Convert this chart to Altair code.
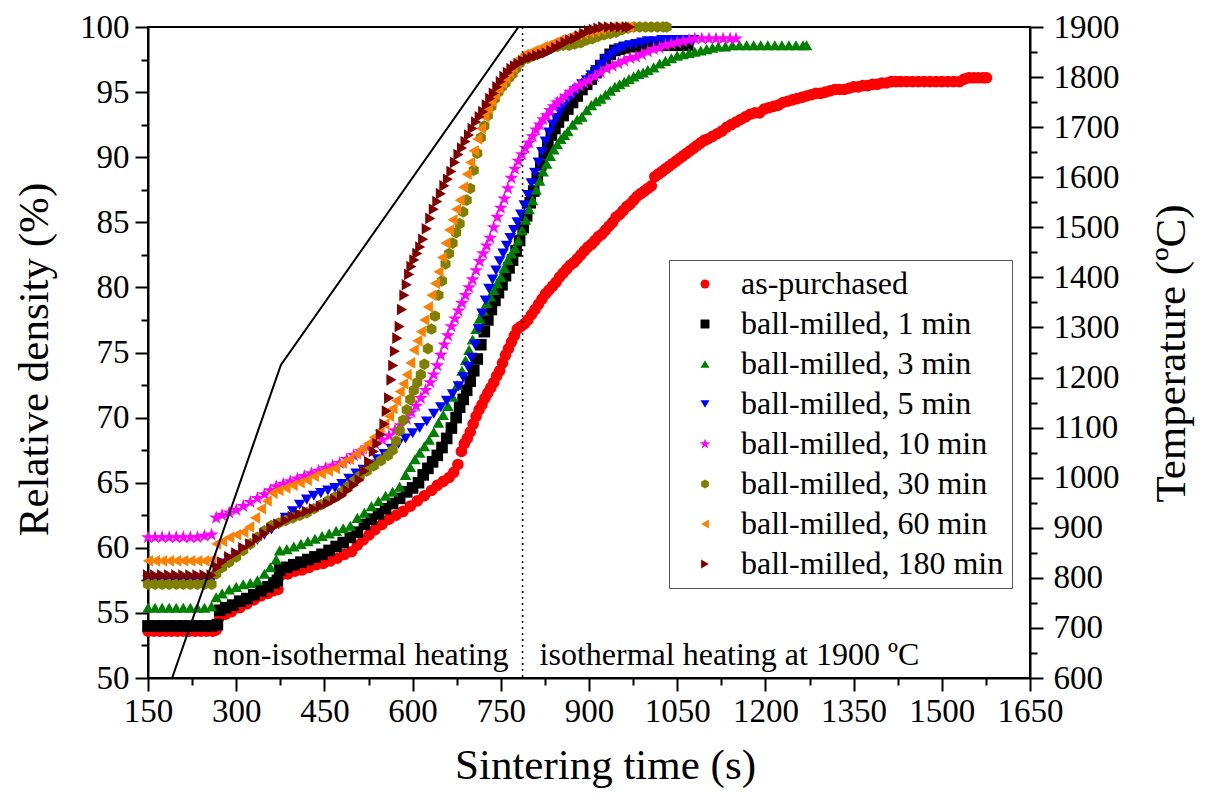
import altair as alt
import pandas as pd

# ---------------- data ----------------
series_names = [
    "as-purchased", "ball-milled, 1 min", "ball-milled, 3 min", "ball-milled, 5 min",
    "ball-milled, 10 min", "ball-milled, 30 min", "ball-milled, 60 min", "ball-milled, 180 min",
]
series_colors = ["#FF0000", "#000000", "#008000", "#0000FF", "#FF00FF", "#808000", "#FF8000", "#800000"]
STAR = ("M0,-1.25L0.282,-0.388L1.189,-0.386L0.456,0.148L0.735,1.011L0,0.48"
        "L-0.735,1.011L-0.456,0.148L-1.189,-0.386L-0.282,-0.388Z")
HEX = "M0,-1L0.866,-0.5L0.866,0.5L0,1L-0.866,0.5L-0.866,-0.5Z"
series_shapes = ["circle", "square", "triangle-up", "triangle-down", STAR, HEX, "triangle-left", "triangle-right"]

as_purchased = [(150,53.6),(160,53.6),(170,53.6),(180,53.6),(190,53.6),(200,53.6),(210,53.6),(220,53.6),(230,53.6),(240,53.6),(250,53.6),(260,53.6),(266,53.7),
(272,54.7),(282,54.9),(292,55.1),(306,55.4),(318,55.7),(330,56.0),(342,56.3),(354,56.5),(363,56.7),(371,56.8),(376,57.9),(388,58.0),(400,58.2),(412,58.3),(424,58.5),(436,58.7),(448,58.8),(460,59.0),(472,59.2),(484,59.5),(496,59.7),(506,60.2),(516,60.6),(526,61.0),(536,61.4),(548,61.8),(560,62.2),(572,62.5),(584,62.8),(596,63.2),(608,63.6),(620,64.0),(632,64.4),(642,64.8),(652,65.1),(662,65.4),(670,65.8),(677,66.4),(683,67.4),(688,68.0),(693,68.4),(698,68.9),(703,69.5),(708,70.1),(713,70.6),(718,71.0),(723,71.5),(728,71.9),(733,72.3),(738,72.7),(743,73.2),(748,73.6),(753,74.2),(758,74.8),(763,75.3),(768,75.8),(773,76.3),(778,76.8),(784,77.0),(790,77.2),(796,77.5),(802,77.9),(808,78.3),(814,78.7),(820,79.1),(826,79.5),(832,79.8),(838,80.1),(844,80.4),(850,80.8),(856,81.1),(862,81.4),(868,81.7),(874,81.9),(880,82.2),(886,82.5),(892,82.8),(898,83.1),(904,83.3),(910,83.6),(916,83.9),(922,84.1),(928,84.4),(934,84.7),(940,85.0),(946,85.4),(952,85.6),(958,85.9),(964,86.2),(970,86.4),(976,86.7),(982,87.0),(988,87.2),(994,87.4),(1000,87.6),(1006,87.8),(1012,88.5),(1018,88.7),(1024,88.9),(1030,89.1),(1036,89.3),(1042,89.5),(1048,89.7),(1054,89.9),(1060,90.1),(1066,90.3),(1072,90.5),(1078,90.7),(1084,90.9),(1090,91.1),(1096,91.3),(1102,91.4),(1110,91.6),(1118,91.8),(1126,92.0),(1134,92.3),(1142,92.5),(1150,92.7),(1158,92.9),(1166,93.1),(1174,93.3),(1182,93.4),(1190,93.4),(1198,93.7),(1206,93.8),(1214,93.9),(1222,94.0),(1230,94.2),(1238,94.3),(1246,94.4),(1254,94.5),(1262,94.6),(1270,94.7),(1278,94.8),(1286,94.9),(1294,94.9),(1302,95.0),(1310,95.1),(1318,95.2),(1326,95.2),(1334,95.2),(1342,95.3),(1350,95.4),(1358,95.4),(1366,95.5),(1374,95.5),(1382,95.6),(1390,95.6),(1398,95.7),(1406,95.7),(1414,95.8),(1422,95.8),(1430,95.8),(1440,95.8),(1450,95.8),(1460,95.8),(1470,95.8),(1480,95.8),(1490,95.8),(1500,95.8),(1510,95.8),(1520,95.8),(1530,95.8),(1538,96.0),(1546,96.1),(1554,96.1),(1562,96.1),(1570,96.1),(1576,96.1)]

bm_1 = [(150,54.0),(162,54.0),(174,54.0),(186,54.0),(198,54.0),(210,54.0),(222,54.0),(234,54.0),(246,54.0),(258,54.0),(268,54.1),
(272,55.2),(282,55.4),(294,55.6),(306,55.9),(318,56.1),(330,56.4),(342,56.7),(354,57.0),(364,57.3),(370,57.5),(374,58.3),(386,58.5),(398,58.7),(410,58.9),(422,59.1),(434,59.3),(446,59.5),(458,59.8),(470,60.1),(482,60.4),(494,60.8),(506,61.2),(518,61.8),(530,62.2),(542,62.6),(554,63.0),(566,63.4),(578,63.8),(590,64.3),(600,64.6),(610,65.0),(618,65.6),(626,66.1),(634,66.6),(642,67.1),(650,67.7),(658,68.4),(666,69.2),(674,70.0),(680,70.8),(686,71.4),(692,72.1),(698,72.8),(704,73.6),(710,74.5),(716,75.6),(722,76.6),(728,77.5),(734,78.3),(740,79.0),(746,79.6),(752,80.2),(758,80.9),(764,81.5),(770,82.1),(776,82.8),(782,83.6),(788,84.6),(794,85.5),(800,86.5),(806,87.4),(812,88.4),(818,89.4),(824,90.3),(830,91.0),(836,91.7),(842,92.2),(848,92.7),(856,93.2),(864,93.7),(872,94.2),(880,94.7),(888,95.2),(896,95.6),(904,96.0),(912,96.5),(920,97.0),(928,97.5),(936,97.9),(944,98.2),(952,98.3),(960,98.4),(970,98.5),(980,98.5),(990,98.5),(1000,98.5),(1010,98.6),(1020,98.6),(1030,98.6),(1040,98.6),(1050,98.6),(1060,98.6),(1068,98.6)]

bm_3 = [(150,55.4),(162,55.4),(174,55.4),(186,55.4),(198,55.4),(210,55.4),(222,55.4),(234,55.4),(246,55.4),(258,55.5),
(266,56.2),(276,56.5),(288,56.8),(300,57.0),(312,57.2),(324,57.3),(336,57.5),(348,58.0),(358,58.5),(368,59.1),(374,59.8),(386,59.9),(398,60.1),(410,60.3),(422,60.5),(434,60.7),(446,60.9),(458,61.1),(470,61.3),(482,61.5),(494,61.7),(506,62.3),(518,62.7),(530,63.2),(542,63.6),(554,64.0),(566,64.3),(578,64.7),(588,65.6),(596,66.2),(604,66.8),(612,67.3),(620,67.8),(628,68.3),(636,68.9),(644,69.6),(652,70.2),(660,70.9),(668,71.6),(676,72.5),(684,73.6),(690,74.4),(696,75.2),(702,76.0),(708,76.8),(714,77.6),(720,78.2),(726,78.8),(732,79.3),(738,79.8),(744,80.3),(750,80.8),(756,81.5),(762,82.1),(768,82.6),(774,83.0),(780,83.6),(786,84.4),(792,85.2),(798,86.0),(804,86.7),(810,87.5),(816,88.2),(822,88.9),(828,89.5),(834,90.1),(840,90.6),(846,91.0),(852,91.4),(858,91.7),(864,92.0),(872,92.5),(880,92.9),(888,93.1),(896,93.6),(904,94.0),(912,94.3),(920,94.5),(928,94.8),(936,95.1),(944,95.4),(952,95.6),(960,95.8),(968,96.0),(976,96.2),(984,96.4),(992,96.5),(1000,96.7),(1010,96.9),(1020,97.2),(1030,97.4),(1040,97.6),(1050,97.8),(1060,97.9),(1070,98.0),(1080,98.1),(1090,98.2),(1100,98.3),(1110,98.4),(1120,98.5),(1132,98.5),(1144,98.6),(1156,98.6),(1168,98.6),(1180,98.6),(1192,98.6),(1204,98.6),(1216,98.6),(1228,98.6),(1240,98.6),(1252,98.6),(1264,98.6),(1270,98.6)]

bm_5 = [(150,57.5),(162,57.5),(174,57.5),(186,57.5),(198,57.5),(210,57.5),(222,57.5),(234,57.5),(246,57.5),(258,57.5),
(266,58.4),(276,58.8),(288,59.1),(300,59.4),(312,59.8),(324,60.2),(336,60.6),(348,61.0),(360,61.4),(372,61.8),(384,62.3),(396,62.8),(408,63.3),(420,63.7),(432,64.0),(444,64.2),(456,64.4),(468,64.6),(480,64.9),(492,65.3),(504,65.7),(516,66.0),(528,66.4),(540,66.8),(552,67.2),(564,67.6),(576,68.0),(588,68.4),(600,68.8),(612,69.2),(624,69.7),(636,70.3),(648,70.8),(658,71.3),(668,71.8),(678,72.4),(686,73.1),(694,73.9),(700,74.6),(706,75.6),(712,76.8),(718,78.0),(724,79.0),(730,79.9),(736,80.6),(742,81.3),(748,82.0),(754,82.6),(760,83.2),(766,83.8),(772,84.4),(778,85.0),(784,85.6),(790,86.3),(796,87.1),(802,88.0),(808,88.8),(814,89.6),(820,90.4),(826,91.2),(832,91.9),(838,92.5),(844,93.0),(850,93.5),(856,93.9),(864,94.4),(872,94.8),(880,95.2),(888,95.6),(896,95.9),(904,96.3),(912,96.7),(920,97.1),(928,97.5),(936,97.8),(944,98.1),(952,98.3),(960,98.5),(970,98.6),(980,98.7),(990,98.8),(1000,98.9),(1012,98.9),(1024,99.0),(1036,99.0),(1048,99.0),(1060,99.0),(1072,99.0),(1078,99.0)]

bm_10 = [(150,60.8),(162,60.8),(174,60.8),(186,60.8),(198,60.8),(210,60.8),(222,60.8),(234,60.8),(246,60.9),(258,61.0),
(266,62.3),(276,62.5),(288,62.7),(300,62.9),(312,63.2),(324,63.5),(336,63.8),(348,64.1),(358,64.4),(368,64.7),(380,64.9),(392,65.1),(404,65.3),(416,65.5),(428,65.7),(440,65.9),(452,66.1),(464,66.3),(476,66.5),(488,66.8),(500,67.1),(512,67.4),(524,67.7),(536,68.0),(548,68.3),(560,68.6),(570,69.0),(580,69.4),(590,69.9),(598,70.4),(606,70.9),(614,71.5),(622,72.1),(630,72.7),(636,73.3),(642,74.0),(648,74.8),(654,75.6),(660,76.3),(666,77.0),(672,77.6),(678,78.2),(684,78.8),(690,79.4),(696,80.0),(702,80.6),(708,81.3),(714,82.0),(720,82.6),(726,83.2),(732,83.8),(738,84.6),(744,85.4),(750,86.1),(756,86.8),(762,87.6),(768,88.4),(774,89.1),(780,89.7),(786,90.2),(792,90.7),(798,91.1),(804,91.6),(810,92.1),(816,92.5),(822,92.9),(828,93.2),(834,93.6),(840,93.9),(846,94.2),(852,94.4),(860,94.7),(868,95.0),(876,95.3),(884,95.5),(892,95.7),(900,95.9),(910,96.2),(920,96.5),(930,96.8),(940,97.0),(950,97.2),(960,97.4),(970,97.6),(980,97.7),(990,97.9),(1000,98.1),(1010,98.3),(1020,98.4),(1030,98.6),(1040,98.7),(1050,98.8),(1060,98.9),(1070,99.0),(1080,99.1),(1092,99.1),(1104,99.1),(1116,99.1),(1128,99.1),(1140,99.1),(1150,99.1)]

bm_30 = [(150,57.2),(162,57.2),(174,57.2),(186,57.2),(198,57.2),(210,57.2),(222,57.2),(234,57.2),(246,57.2),(258,57.2),
(266,58.0),(276,58.5),(288,58.9),(300,59.3),(312,59.8),(324,60.3),(336,60.8),(348,61.3),(360,61.7),(372,61.9),(384,62.1),(396,62.3),(408,62.5),(420,62.7),(432,63.0),(444,63.3),(456,63.6),(468,63.9),(480,64.3),(490,64.7),(500,65.1),(510,65.5),(522,65.9),(534,66.3),(546,66.7),(558,67.1),(566,67.5),(572,68.2),(578,69.0),(584,69.8),(590,70.6),(596,71.4),(602,72.1),(608,72.7),(614,73.3),(620,74.1),(626,75.3),(632,76.8),(638,77.8),(644,79.4),(650,80.5),(656,81.8),(662,82.6),(668,83.4),(674,84.2),(680,84.9),(686,85.8),(692,86.7),(698,87.6),(704,89.0),(710,90.3),(716,91.5),(722,92.4),(728,93.2),(734,93.9),(740,94.5),(746,95.0),(752,95.4),(758,95.7),(764,96.1),(770,96.4),(776,96.8),(782,97.2),(788,97.5),(796,97.6),(806,97.8),(816,98.0),(826,98.2),(836,98.4),(846,98.5),(856,98.6),(866,98.6),(876,98.7),(886,98.8),(896,99.0),(906,99.1),(916,99.3),(926,99.4),(936,99.5),(946,99.6),(956,99.8),(966,99.9),(976,100.0),(986,100.0),(996,100.0),(1006,100.0),(1016,100.0),(1026,100.0),(1032,100.0)]

bm_60 = [(150,59.0),(162,59.0),(174,59.0),(186,59.0),(198,59.0),(210,59.0),(222,59.0),(234,59.0),(246,59.0),(258,59.1),
(266,60.3),(276,60.5),(288,60.8),(300,61.0),(312,61.2),(322,61.6),(332,62.3),(342,63.0),(352,63.6),(362,64.2),(372,64.4),(384,64.6),(396,64.8),(408,65.0),(420,65.2),(432,65.5),(444,65.7),(456,65.9),(468,66.1),(480,66.5),(492,66.8),(504,67.2),(514,67.6),(524,68.0),(534,68.5),(544,69.0),(552,69.5),(560,70.1),(566,70.7),(572,71.3),(578,72.0),(584,72.6),(590,73.3),(596,74.2),(602,75.2),(608,75.9),(614,76.6),(620,77.5),(626,78.5),(632,79.4),(638,80.3),(644,81.2),(650,82.3),(656,83.4),(662,84.4),(668,85.2),(674,86.0),(680,86.7),(686,87.7),(692,88.7),(698,89.6),(704,90.5),(710,91.4),(716,92.2),(722,93.1),(728,93.7),(734,94.3),(740,94.8),(746,95.3),(752,95.7),(758,96.1),(764,96.5),(770,96.9),(776,97.3),(782,97.6),(790,97.9),(798,98.0),(806,98.2),(814,98.3),(822,98.5),(830,98.6),(840,98.8),(850,99.0),(860,99.1),(870,99.3),(880,99.4),(890,99.5),(900,99.6),(910,99.7),(920,99.8),(930,99.9),(940,100.0),(950,100.0),(960,100.0),(968,100.0)]

bm_180 = [(150,57.9),(162,57.9),(174,57.9),(186,57.9),(198,57.9),(210,57.9),(222,57.9),(234,57.9),(246,57.9),(258,57.9),
(268,58.5),(276,58.9),(288,59.3),(300,59.6),(312,60.0),(324,60.3),(336,60.7),(348,61.1),(360,61.5),(372,61.8),(384,62.1),(396,62.4),(408,62.6),(420,62.8),(432,63.0),(444,63.2),(456,63.4),(468,63.7),(480,64.0),(490,64.4),(500,64.8),(510,65.2),(518,65.9),(526,66.6),(534,67.4),(540,68.0),(546,68.7),(552,69.5),(556,70.5),(560,71.5),(564,72.9),(567,74.0),(570,75.1),(574,76.1),(578,77.0),(582,78.3),(586,79.4),(590,80.2),(594,81.0),(598,81.6),(603,82.1),(608,82.6),(613,83.1),(618,83.7),(624,84.5),(630,85.3),(636,86.0),(642,86.6),(648,87.2),(654,87.8),(660,88.3),(666,88.9),(672,89.6),(678,90.2),(684,90.7),(690,91.2),(696,91.7),(702,92.2),(708,92.7),(714,93.1),(720,93.5),(726,94.0),(732,94.5),(738,94.9),(744,95.4),(750,95.8),(756,96.2),(762,96.5),(768,96.8),(774,97.0),(780,97.2),(788,97.4),(796,97.6),(804,97.7),(812,97.8),(820,97.9),(828,98.0),(836,98.2),(844,98.4),(852,98.6),(860,98.8),(868,99.0),(876,99.1),(884,99.3),(892,99.5),(900,99.7),(908,99.8),(916,99.9),(924,100.0),(934,100.0),(944,100.0),(954,100.0),(964,100.0),(970,100.0)]

series_data = [as_purchased, bm_1, bm_3, bm_5, bm_10, bm_30, bm_60, bm_180]

# temperature programme (right axis)
temp_time = [150, 191, 376, 780]
temp_value = [600, 600, 1225, 1900]

# isothermal start marker and annotations
iso_start = [787]
ann_time = [260, 816]
ann_density = [51.8, 51.8]
ann_text = ["non-isothermal heating", "isothermal heating at 1900 \u00baC"]

x_ticks = list(range(150, 1651, 75))
y_ticks = [50 + 2.5 * i for i in range(21)]
temp_ticks = list(range(600, 1901, 50))

# ---------------- build ----------------
rows = []
for name, pts in zip(series_names, series_data):
    for t, d in pts:
        rows.append({"t": t, "d": d, "series": name})
df = pd.DataFrame(rows)

FONT = "Liberation Serif"
MAJOR_DASH = [14, 2]
MINOR_DASH = [7, 20]

x_scale = alt.Scale(domain=[150, 1650], nice=False, zero=False)
y_scale = alt.Scale(domain=[50, 100], nice=False, zero=False)
t_scale = alt.Scale(domain=[600, 1900], nice=False, zero=False)

x_major = "(datum.value - 150) % 150 === 0"
y_major = "datum.value % 5 === 0"
t_major = "datum.value % 100 === 0"

x_axis = alt.Axis(
    values=x_ticks, format="d", title="Sintering time (s)",
    labelExpr=f"{x_major} ? datum.label : ''",
    tickSize=13,
    tickDash={"condition": {"test": x_major, "value": MAJOR_DASH}, "value": MINOR_DASH},
    labelFlush=False, labelOverlap=False, labelPadding=4,
    titleX=457, titleY=87, titleAlign="center", titleBaseline="middle",
)
y_axis = alt.Axis(
    values=y_ticks, format="d", title="Relative density (%)",
    labelExpr=f"{y_major} ? datum.label : ''",
    tickSize=13,
    tickDash={"condition": {"test": y_major, "value": MAJOR_DASH}, "value": MINOR_DASH},
    labelFlush=False, labelOverlap=False, labelPadding=6,
    titleX=-114, titleY=332, titleAlign="center", titleBaseline="middle", titleAngle=270,
)
t_axis = alt.Axis(
    orient="right", values=temp_ticks, format="d", title="Temperature (\u00baC)",
    labelExpr=f"{t_major} ? datum.label : ''",
    tickSize=13,
    tickDash={"condition": {"test": t_major, "value": MAJOR_DASH}, "value": MINOR_DASH},
    labelFlush=False, labelOverlap=False, labelPadding=10,
    titleX=141, titleY=326, titleAlign="center", titleBaseline="middle", titleAngle=270,
)

legend = alt.Legend(
    title=None, orient="none", legendX=521, legendY=233,
    strokeColor="#555555", fillColor="white", padding=8,
    symbolOffset=12, labelOffset=20, labelFontSize=32, labelFont=FONT, labelColor="black",
    rowPadding=8, symbolSize=80, labelLimit=500, symbolStrokeWidth=0,
)

points = alt.Chart(df).mark_point(filled=True, size=135, opacity=1, strokeWidth=0).encode(
    x=alt.X("t:Q", scale=x_scale, axis=x_axis),
    y=alt.Y("d:Q", scale=y_scale, axis=y_axis),
    color=alt.Color("series:N", scale=alt.Scale(domain=series_names, range=series_colors), legend=legend),
    shape=alt.Shape("series:N", scale=alt.Scale(domain=series_names, range=series_shapes), legend=legend),
)

rule = alt.Chart(pd.DataFrame({"t": iso_start})).mark_rule(
    color="black", strokeWidth=1.5, strokeDash=[2, 4]
).encode(x=alt.X("t:Q", scale=x_scale, axis=x_axis))

text = alt.Chart(pd.DataFrame({"t": ann_time, "d": ann_density, "label": ann_text})).mark_text(
    align="left", baseline="middle", font=FONT, fontSize=32, color="black"
).encode(
    x=alt.X("t:Q", scale=x_scale, axis=x_axis),
    y=alt.Y("d:Q", scale=y_scale, axis=y_axis),
    text="label:N",
)

temp_df = pd.DataFrame({"t": temp_time, "T": temp_value})
temp = alt.Chart(temp_df).mark_line(color="black", strokeWidth=2).encode(
    x=alt.X("t:Q", scale=x_scale, axis=x_axis),
    y=alt.Y("T:Q", scale=t_scale, axis=t_axis),
)

left = alt.layer(points, rule, text)
chart = alt.layer(left, temp).resolve_scale(y="independent").properties(
    width=882, height=651,
    padding={"left": 140, "top": 19, "right": 168, "bottom": 114},
    autosize=alt.AutoSizeParams(type="none"),
    background="white",
).configure_axis(
    domainColor="black", domainWidth=2, tickColor="black", tickWidth=2,
    labelFont=FONT, labelFontSize=33, labelColor="black",
    titleFont=FONT, titleFontSize=43, titleFontWeight="normal", titleColor="black",
    grid=False,
).configure_view(stroke="black", strokeWidth=2)

chart.save("out.html", embed_options={"renderer": "svg", "actions": False})
